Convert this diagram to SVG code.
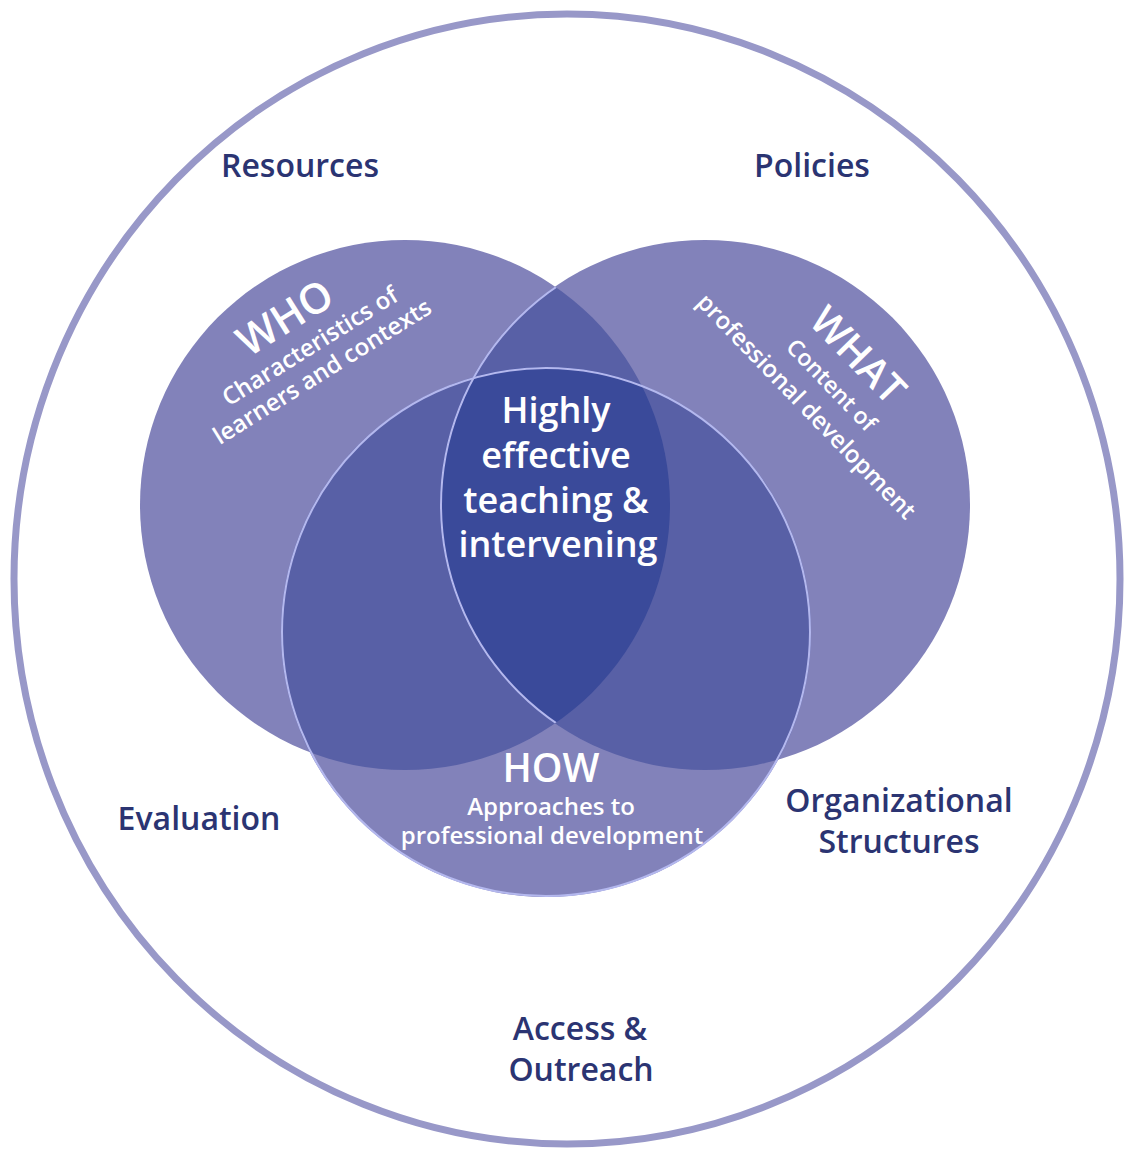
<svg xmlns="http://www.w3.org/2000/svg" width="1131" height="1149" viewBox="0 0 1131 1149">
<style>
.lbl{font-family:"Open Sans","DejaVu Sans",sans-serif;font-weight:600;font-size:32px;fill:#2b3472;text-anchor:middle}
.wt{font-family:"Open Sans","DejaVu Sans",sans-serif;font-weight:600;fill:#ffffff;text-anchor:middle}
.single{fill:#8282ba}
.dbl{fill:#5860a6}
.tri{fill:#3a4a9a}
.edge{fill:none;stroke:#b4b8ee;stroke-width:2}
</style>
<defs>
<clipPath id="cWho"><circle cx="405" cy="505" r="265"/></clipPath>
<clipPath id="cWhat"><circle cx="705" cy="505" r="265"/></clipPath>
<clipPath id="cHow"><circle cx="546" cy="632" r="265"/></clipPath>
</defs>
<rect width="1131" height="1149" fill="#ffffff"/>
<g id="context">
<ellipse cx="567" cy="579" rx="553" ry="565" fill="none" stroke="#9898c8" stroke-width="7"/>
</g>
<g id="venn">
<circle class="single" cx="405" cy="505" r="265"/>
<circle class="single" cx="705" cy="505" r="265"/>
<circle class="single" cx="546" cy="632" r="265"/>
<circle class="dbl" cx="405" cy="505" r="265" clip-path="url(#cWhat)"/>
<circle class="dbl" cx="405" cy="505" r="265" clip-path="url(#cHow)"/>
<circle class="dbl" cx="705" cy="505" r="265" clip-path="url(#cHow)"/>
<g clip-path="url(#cWhat)"><circle class="tri" cx="405" cy="505" r="265" clip-path="url(#cHow)"/></g>
<circle class="edge" cx="705" cy="505" r="264" clip-path="url(#cWho)"/>
<circle class="edge" cx="546" cy="632" r="264"/>
</g>
<g id="who">
<g transform="translate(310,350) rotate(-32)">
<text class="wt" x="-4" y="-26" font-size="42">WHO</text>
<text class="wt" x="2" y="5" font-size="24">Characteristics of</text>
<text class="wt" x="-1" y="33" font-size="24">learners and contexts</text>
</g>
</g>
<g id="what">
<g transform="translate(830,385) rotate(46)">
<text class="wt" x="-2" y="-27" font-size="40">WHAT</text>
<text class="wt" x="1" y="7" font-size="23">Content of</text>
<text class="wt" x="-1" y="40" font-size="24">professional development</text>
</g>
</g>
<g id="how">
<text class="wt" x="551" y="782" font-size="39">HOW</text>
<text class="wt" x="551" y="815" font-size="24">Approaches to</text>
<text class="wt" x="552" y="844" font-size="24">professional development</text>
</g>
<g id="center">
<text class="wt" x="556" y="423" font-size="36">Highly</text>
<text class="wt" x="556" y="468" font-size="36">effective</text>
<text class="wt" x="556" y="513" font-size="36">teaching &amp;</text>
<text class="wt" x="558" y="557" font-size="36">intervening</text>
</g>
<g id="labels">
<text class="lbl" x="300" y="177">Resources</text>
<text class="lbl" x="812" y="177">Policies</text>
<text class="lbl" x="199" y="830">Evaluation</text>
<text class="lbl" x="899" y="812">Organizational</text>
<text class="lbl" x="899" y="853">Structures</text>
<text class="lbl" x="580" y="1040">Access &amp;</text>
<text class="lbl" x="581" y="1081">Outreach</text>
</g>
</svg>
